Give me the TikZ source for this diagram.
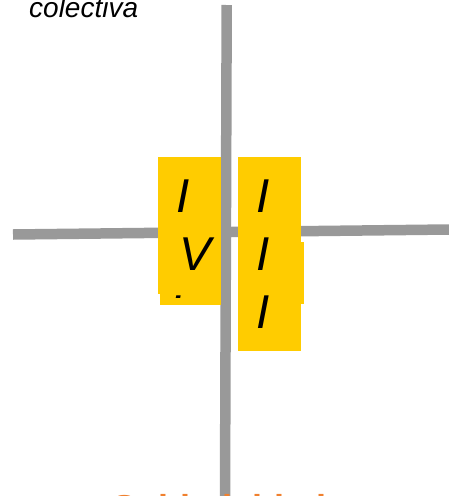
\documentclass[tikz,border=0pt]{standalone}
\usepackage{fontspec}
\setmainfont{Liberation Sans}
\definecolor{axisgray}{HTML}{999999}
\definecolor{quadyellow}{HTML}{FFCC00}
\definecolor{titleorange}{HTML}{F0802E}
\tikzset{
  axisline/.style={draw=axisgray, line width=10.5pt},
  quadbox/.style={fill=quadyellow, inner sep=0pt, anchor=north west},
  bigletter/.style={inner sep=0pt, anchor=base west, font=\fontsize{47.5}{57}\selectfont\itshape},
  toplabel/.style={inner sep=0pt, anchor=base west, font=\fontsize{28}{33}\selectfont\itshape},
  titletext/.style={inner sep=0pt, anchor=base west, text=titleorange, font=\fontsize{36}{43}\selectfont\bfseries}
}
\begin{document}
\begin{tikzpicture}[x=1pt,y=-1pt]
\useasboundingbox (0,0) rectangle (449,496);
\clip (0,0) rectangle (449,496);
% axes
\coordinate (hl) at (13,234.5);
\coordinate (hr) at (449,229.5);
\coordinate (vt) at (226.7,5);
\coordinate (vb) at (225,496);
\draw[axisline] (hl) -- (hr);
\draw[axisline] (vt) -- (vb);
% left box (IV)
\node[quadbox, minimum width=63.7pt, minimum height=136.8pt] (lbox) at (157.3,156.7) {};
\node[quadbox, minimum width=61pt, minimum height=12pt] (lboxlow) at (160,293) {};
% right box (III)
\node[quadbox, minimum width=63.3pt, minimum height=194pt] (rbox) at (237.7,156.7) {};
\node[quadbox, minimum width=65.6pt, minimum height=61.6pt] (rboxside) at (237.7,241.7) {};
% letters
\node[bigletter] (l1) at (176,212) {I};
\node[bigletter] (l2) at (179,270) {V};
\begin{scope}
\clip (150,280) rectangle (230,297);
\node[bigletter] (l3) at (168,328) {I};
\end{scope}
\node[bigletter] (r1) at (256,212) {I};
\node[bigletter] (r2) at (256,270) {I};
\node[bigletter] (r3) at (256,328) {I};
% texts
\node[toplabel] (top) at (29,17.5) {colectiva};
\node[titletext] (title) at (112,520.5) {Subjetividad};
\end{tikzpicture}
\end{document}
